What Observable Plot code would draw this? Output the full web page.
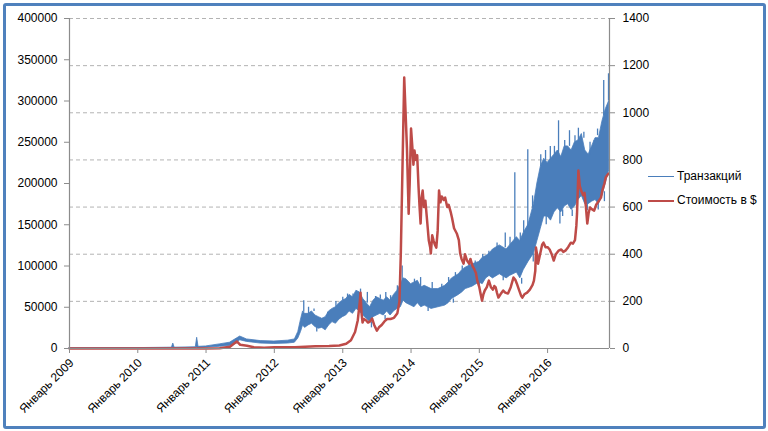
<!DOCTYPE html>
<html>
<head>
<meta charset="utf-8">
<script src="https://cdn.jsdelivr.net/npm/d3@7"></script>
<script src="https://cdn.jsdelivr.net/npm/@observablehq/plot@0.6"></script>
<style>
  html, body { margin: 0; padding: 0; background: #fff; }
  #wrap { position: relative; width: 768px; height: 431px; overflow: hidden; font-family: "Liberation Sans", Arial, sans-serif; }
  #border { position: absolute; left: 3px; top: 3px; width: 763px; height: 426px; box-sizing: border-box; border: 3px solid #4f81bd; border-radius: 3px; pointer-events: none; }
  .leg { position: absolute; font-size: 12px; color: #000; white-space: nowrap; }
  .legline { position: absolute; }
</style>
</head>
<body>
<div id="wrap">
  <div id="chart"></div>
  <div id="border"></div>
  <div class="legline" style="left:648px; top:176px; width:26px; height:0; border-top:1.5px solid #4a7ebb;"></div>
  <div class="leg" style="left:677px; top:169px;">Транзакций</div>
  <div class="legline" style="left:648px; top:200px; width:26px; height:0; border-top:2.5px solid #be4b48;"></div>
  <div class="leg" style="left:677px; top:193px;">Стоимость в $</div>
</div>
<script>
// ---- data (decimal years) ----
// Transactions per day: low and high envelope of the noisy band (thousands)
const txYears = [2009.0, 2010.0, 2010.5, 2010.52, 2010.54, 2010.85, 2010.87, 2010.89, 2011.0, 2011.2, 2011.35, 2011.45, 2011.5, 2011.6, 2011.8, 2012.0, 2012.2, 2012.3, 2012.35, 2012.39, 2012.42, 2012.45, 2012.5, 2012.55, 2012.6, 2012.65, 2012.7, 2012.75, 2012.8, 2012.85, 2012.9, 2012.95, 2013.0, 2013.05, 2013.1, 2013.15, 2013.2, 2013.25, 2013.3, 2013.35, 2013.4, 2013.45, 2013.5, 2013.55, 2013.6, 2013.65, 2013.7, 2013.75, 2013.8, 2013.85, 2013.89, 2013.93, 2014.0, 2014.05, 2014.1, 2014.15, 2014.2, 2014.3, 2014.4, 2014.5, 2014.55, 2014.6, 2014.7, 2014.75, 2014.8, 2014.9, 2015.0, 2015.05, 2015.1, 2015.15, 2015.2, 2015.3, 2015.4, 2015.45, 2015.5, 2015.55, 2015.6, 2015.65, 2015.72, 2015.8, 2015.85, 2015.9, 2015.95, 2016.0, 2016.05, 2016.1, 2016.15, 2016.2, 2016.25, 2016.3, 2016.35, 2016.4, 2016.45, 2016.5, 2016.55, 2016.6, 2016.65, 2016.7, 2016.75, 2016.8, 2016.85, 2016.9];
const txLow  = [0, 0, 0.2, 0.5, 0.3, 0.5, 1, 0.5, 1, 2, 3, 6, 10, 8, 6, 5.5, 6, 7, 12, 20, 28, 25, 28, 30, 26, 24, 25, 22, 28, 32, 30, 35, 38, 40, 45, 42, 48, 45, 40, 36, 32, 38, 40, 42, 40, 45, 40, 45, 48, 50, 58, 55, 52, 50, 55, 50, 52, 48, 50, 52, 55, 60, 65, 68, 72, 75, 80, 78, 85, 88, 85, 90, 85, 88, 90, 92, 85, 95, 105, 115, 130, 145, 160, 160, 155, 165, 170, 165, 172, 175, 168, 172, 180, 185, 175, 175, 178, 180, 175, 185, 200, 216];
const txHigh = [0.3, 0.5, 1, 6, 1, 1.5, 13, 2, 2.5, 5, 7, 12, 14.5, 11, 9, 8.5, 9.5, 11, 20, 35, 45, 42, 42, 45, 40, 38, 36, 38, 45, 48, 50, 55, 58, 60, 65, 62, 70, 68, 60, 55, 50, 58, 62, 60, 58, 62, 58, 65, 70, 78, 85, 84, 78, 80, 82, 74, 76, 72, 72, 76, 80, 85, 90, 95, 98, 102, 105, 110, 112, 115, 120, 125, 120, 125, 130, 135, 130, 140, 150, 175, 200, 220, 230, 225, 230, 235, 240, 232, 245, 245, 240, 250, 252, 260, 240, 235, 245, 255, 255, 275, 290, 300];
// Individual spikes / dips of the transaction band (year, from, to; thousands)
const needleYears = [2012.43, 2012.5, 2012.58, 2012.62, 2012.78, 2012.9, 2013.0, 2013.07, 2013.15, 2013.26, 2013.36, 2013.42, 2013.48, 2013.55, 2013.62, 2013.63, 2013.7, 2013.8, 2013.87, 2014.05, 2014.14, 2014.25, 2014.31, 2014.45, 2014.55, 2014.62, 2014.65, 2014.75, 2014.85, 2014.94, 2015.0, 2015.05, 2015.14, 2015.26, 2015.35, 2015.38, 2015.45, 2015.52, 2015.6, 2015.62, 2015.65, 2015.71, 2015.78, 2015.79, 2015.9, 2015.97, 2015.98, 2016.04, 2016.1, 2016.16, 2016.18, 2016.22, 2016.25, 2016.32, 2016.36, 2016.4, 2016.45, 2016.53, 2016.58, 2016.62, 2016.68, 2016.73, 2016.74, 2016.82, 2016.83, 2016.89];
const needleFrom  = [44, 42, 45, 26, 38, 50, 58, 60, 62, 66, 55, 32, 58, 60, 40, 58, 58, 70, 80, 80, 74, 50, 72, 74, 80, 60, 86, 95, 100, 102, 80, 110, 113, 122, 88, 122, 125, 130, 130, 85, 140, 145, 170, 115, 220, 228, 160, 228, 235, 235, 170, 168, 245, 245, 168, 250, 252, 255, 178, 235, 245, 258, 180, 282, 190, 300];
const needleTo    = [58, 50, 48, 20, 44, 57, 62, 66, 66, 72, 68, 25, 63, 65, 35, 68, 64, 76, 100, 84, 86, 45, 80, 78, 86, 55, 92, 100, 104, 106, 75, 114, 118, 128, 82, 140, 135, 213, 140, 78, 155, 241, 185, 105, 235, 240, 150, 245, 245, 276, 151, 160, 252, 264, 160, 258, 267, 262, 167, 250, 252, 266, 168, 325, 178, 333];
// Price in USD
const priceYears = [2009.0, 2010.5, 2010.9, 2011.0, 2011.2, 2011.35, 2011.45, 2011.5, 2011.6, 2011.7, 2011.85, 2012.0, 2012.3, 2012.6, 2012.8, 2012.95, 2013.05, 2013.12, 2013.18, 2013.22, 2013.25, 2013.26, 2013.275, 2013.29, 2013.31, 2013.34, 2013.37, 2013.4, 2013.43, 2013.46, 2013.5, 2013.53, 2013.57, 2013.61, 2013.65, 2013.7, 2013.75, 2013.8, 2013.83, 2013.85, 2013.87, 2013.9, 2013.92, 2013.94, 2013.955, 2013.965, 2013.98, 2014.0, 2014.02, 2014.035, 2014.05, 2014.07, 2014.09, 2014.11, 2014.125, 2014.14, 2014.155, 2014.17, 2014.19, 2014.21, 2014.23, 2014.26, 2014.28, 2014.29, 2014.31, 2014.33, 2014.35, 2014.37, 2014.39, 2014.41, 2014.43, 2014.45, 2014.48, 2014.5, 2014.53, 2014.55, 2014.58, 2014.6, 2014.63, 2014.67, 2014.7, 2014.72, 2014.74, 2014.77, 2014.79, 2014.82, 2014.85, 2014.87, 2014.9, 2014.92, 2014.95, 2014.97, 2015.0, 2015.02, 2015.04, 2015.06, 2015.08, 2015.11, 2015.14, 2015.17, 2015.2, 2015.22, 2015.24, 2015.26, 2015.28, 2015.31, 2015.35, 2015.38, 2015.42, 2015.46, 2015.5, 2015.53, 2015.55, 2015.58, 2015.61, 2015.63, 2015.66, 2015.7, 2015.74, 2015.78, 2015.8, 2015.82, 2015.83, 2015.85, 2015.86, 2015.89, 2015.92, 2015.94, 2015.97, 2016.0, 2016.03, 2016.06, 2016.09, 2016.12, 2016.16, 2016.2, 2016.23, 2016.26, 2016.3, 2016.34, 2016.37, 2016.4, 2016.42, 2016.43, 2016.45, 2016.47, 2016.49, 2016.52, 2016.54, 2016.56, 2016.58, 2016.6, 2016.62, 2016.65, 2016.68, 2016.71, 2016.75, 2016.78, 2016.8, 2016.83, 2016.85, 2016.87, 2016.89];
const priceUSD = [0, 0.07, 0.3, 0.3, 0.9, 7, 30, 16, 12, 5, 3, 5, 5, 10, 11, 13, 20, 35, 70, 120, 200, 237, 150, 110, 125, 120, 110, 115, 127, 100, 76, 90, 100, 115, 125, 125, 130, 150, 200, 400, 700, 1150, 1000, 850, 680, 572, 700, 933, 850, 780, 840, 800, 820, 683, 600, 530, 640, 670, 600, 627, 560, 458, 430, 403, 480, 458, 440, 428, 500, 670, 620, 645, 630, 640, 600, 610, 580, 555, 510, 488, 460, 403, 380, 360, 400, 373, 360, 380, 350, 340, 320, 288, 260, 230, 203, 230, 246, 260, 288, 260, 250, 265, 259, 235, 216, 230, 246, 237, 233, 260, 301, 290, 275, 250, 225, 216, 230, 237, 250, 270, 288, 330, 428, 390, 360, 400, 440, 449, 430, 430, 420, 400, 373, 400, 415, 420, 410, 415, 430, 449, 445, 460, 520, 572, 755, 690, 670, 650, 660, 600, 530, 575, 598, 590, 585, 610, 627, 640, 670, 700, 726, 735, 742];
// Axis ticks
const leftTicks = [0, 50000, 100000, 150000, 200000, 250000, 300000, 350000, 400000];
const rightTicks = [0, 200, 400, 600, 800, 1000, 1200, 1400];
const xTickYears = [2009, 2010, 2011, 2012, 2013, 2014, 2015, 2016];
const xTickLabels = ["Январь 2009", "Январь 2010", "Январь 2011", "Январь 2012", "Январь 2013", "Январь 2014", "Январь 2015", "Январь 2016"];

// ---- helpers ----
function toDate(y) {
  const yr = Math.floor(y);
  const a = Date.UTC(yr, 0, 1), b = Date.UTC(yr + 1, 0, 1);
  return new Date(a + (y - yr) * (b - a));
}
const K = 400000 / 1400; // price -> left-axis units
const tx = txYears.map((y, i) => ({date: toDate(y), lo: txLow[i] * 1000, hi: txHigh[i] * 1000}));
const needles = needleYears.map((y, i) => ({date: toDate(y), a: needleFrom[i] * 1000, b: needleTo[i] * 1000}));
const price = priceYears.map((y, i) => ({date: toDate(y), v: priceUSD[i] * K}));
const xTicks = xTickYears.map(y => toDate(y));
const x0 = toDate(2009), x1 = new Date(Date.UTC(2016, 10, 27));
const BLUE = "#4a7ebb", RED = "#be4b48", AXIS = "#8c8c8c";

const chart = Plot.plot({
  width: 768, height: 431,
  marginLeft: 69, marginRight: 159, marginTop: 18, marginBottom: 83,
  x: {type: "utc", domain: [x0, x1]},
  y: {domain: [0, 400000]},
  style: {fontFamily: '"Liberation Sans", Arial, sans-serif', fontSize: "12px", color: "#000", background: "transparent", overflow: "visible"},
  marks: [
    Plot.gridY(rightTicks.slice(1).map(p => p * K), {stroke: "#b3b3b3", strokeOpacity: 1, strokeDasharray: "4,3"}),
    Plot.areaY(tx, {x: "date", y1: "lo", y2: "hi", fill: BLUE, stroke: BLUE, strokeWidth: 0.8}),
    Plot.ruleX(needles, {x: "date", y1: "a", y2: "b", stroke: BLUE, strokeWidth: 1.3}),
    Plot.line(price, {x: "date", y: "v", stroke: RED, strokeWidth: 2.5, strokeLinejoin: "round"}),
    Plot.ruleX([x0, x1], {stroke: AXIS, strokeWidth: 1.2}),
    Plot.ruleY([0], {stroke: AXIS, strokeWidth: 1.2}),
    Plot.axisY(leftTicks, {anchor: "left", tickSize: 5, tickPadding: 7, tickFormat: d => String(d), label: null, stroke: AXIS, fill: "#000"}),
    Plot.axisY(rightTicks.map(p => p * K), {anchor: "right", tickSize: 5, tickPadding: 8, tickFormat: d => String(Math.round(d / K)), label: null, stroke: AXIS, fill: "#000"}),
    Plot.axisX(xTicks, {anchor: "bottom", tickSize: 5, tickFormat: () => "", label: null, stroke: AXIS}),
    Plot.text(xTickLabels, {x: (d, i) => xTicks[i], frameAnchor: "bottom", text: d => d, rotate: -45, textAnchor: "end", dx: 5, dy: 15, fill: "#000"})
  ]
});
document.getElementById("chart").appendChild(chart);
</script>
</body>
</html>
